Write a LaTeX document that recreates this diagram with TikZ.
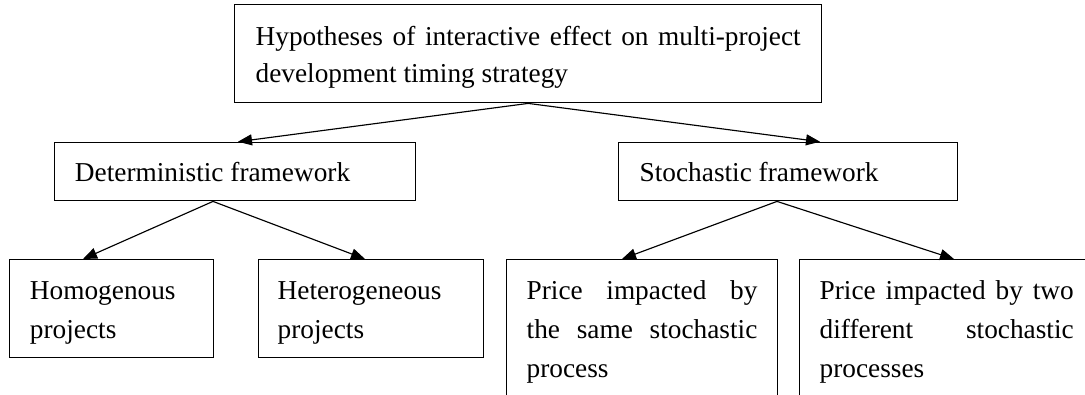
\documentclass[tikz,border=0pt]{standalone}
\usepackage{fontspec}
\setmainfont{Liberation Serif}
\usetikzlibrary{arrows.meta,calc}
\newcommand\bxtext[6]{\parbox[c][#2][t]{#1}{\hspace*{#3}\rule{0pt}{#4}\parbox[t]{#5}{\tolerance=10000\hyphenpenalty=10000\exhyphenpenalty=10000\hbadness=10000 #6}}}
\begin{document}
\begin{tikzpicture}[x=1pt,y=-1pt,
  bx/.style={draw, line width=1.4pt, inner sep=0pt, anchor=north west, rectangle,
    font=\fontsize{27.3}{39.2}\selectfont},
  conn/.style={line width=1.15pt, -{Triangle[length=14pt,width=11pt]}}]
\useasboundingbox (0,0) rectangle (1085,394);
\fill[white] (0,0) rectangle (1085,394);
\clip (0,0) rectangle (1085,394);
% top
\node[bx, font=\fontsize{27.3}{37}\selectfont] (top) at (234,4)
  {\bxtext{587pt}{98pt}{21pt}{41pt}{545pt}{Hypotheses of interactive effect on multi-project\linebreak development timing strategy}};
% second row
\node[bx] (det) at (54,141.7)
  {\bxtext{361pt}{58.3pt}{20.3pt}{39.3pt}{330pt}{Deterministic framework}};
\node[bx] (sto) at (618,141.7)
  {\bxtext{339pt}{58.3pt}{21pt}{39.3pt}{310pt}{Stochastic framework}};
% third row
\node[bx] (hom) at (9,259)
  {\bxtext{204pt}{98pt}{20.3pt}{39.3pt}{180pt}{Homogenous\\projects}};
\node[bx] (het) at (257.7,259)
  {\bxtext{225.3pt}{98pt}{19.3pt}{39.3pt}{200pt}{Heterogeneous\\projects}};
\node[bx] (same) at (505.7,259)
  {\bxtext{271.3pt}{160pt}{20.3pt}{39.3pt}{230.7pt}{Price impacted by\linebreak the same stochastic\linebreak process}};
\node[bx] (two) at (799,259)
  {\bxtext{295pt}{160pt}{20pt}{39.3pt}{254pt}{Price impacted by two\linebreak different stochastic\linebreak processes}};
% connectors
\draw[conn] (top.south) -- ($(det.north west)+(184,0)$);
\draw[conn] (top.south) -- ($(sto.north west)+(202,0)$);
\draw[conn] ($(det.south west)+(159,0)$) -- ($(hom.north west)+(74,0)$);
\draw[conn] ($(det.south west)+(159,0)$) -- ($(het.north west)+(107.3,0)$);
\draw[conn] ($(sto.south west)+(159,0)$) -- ($(same.north west)+(116.3,0)$);
\draw[conn] ($(sto.south west)+(159,0)$) -- ($(two.north west)+(155,0)$);
\end{tikzpicture}
\end{document}
